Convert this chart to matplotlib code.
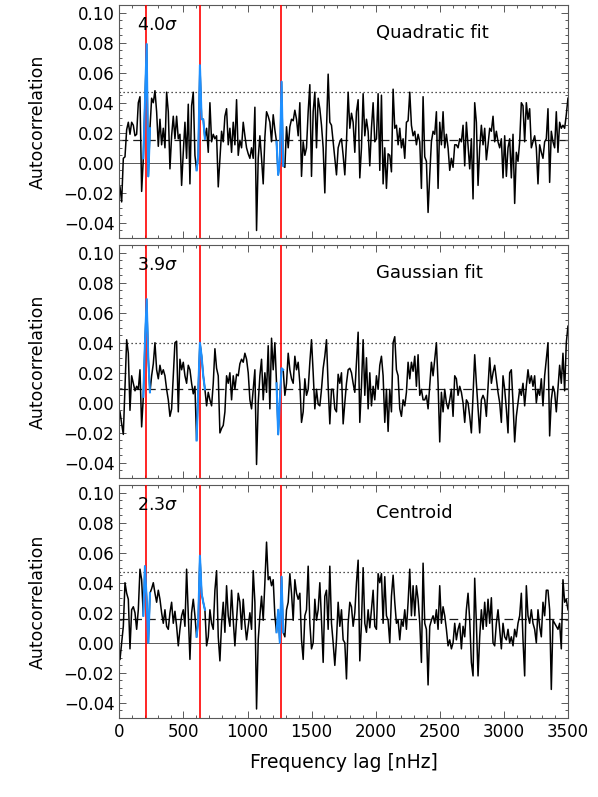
import numpy as np
import matplotlib
matplotlib.use("Agg")
import matplotlib.pyplot as plt
from matplotlib.ticker import MultipleLocator

# ---------------- data ----------------
quad_left = [-0.016, -0.026, 0.003, 0.004, 0.022, 0.027, 0.019, 0.027, 0.025, 0.018, 0.019,
             0.040, 0.044, -0.019, 0.003, 0.040, 0.079, -0.009, 0.023, 0.043, 0.040, 0.048,
             0.034, 0.011, 0.029, 0.012, 0.023, 0.010, 0.047, 0.034, -0.004, 0.018, 0.031,
             0.016, 0.031, 0.016, 0.019, -0.015, 0.007, 0.027, 0.003, 0.039, -0.014, 0.038,
             0.047, 0.005, -0.005, 0.005, 0.065, 0.029, 0.029, 0.016, 0.023, 0.007, 0.040,
             0.014, 0.019, 0.016, 0.018, -0.016, 0.003, 0.021, 0.014, 0.031, 0.036, 0.012,
             0.023, 0.007, 0.027, 0.012, 0.042, 0.005, 0.015, 0.010, 0.027, 0.018, 0.010,
             0.006, 0.003, 0.010, 0.003, 0.037, -0.045, 0.003, 0.018, 0.003, -0.014, 0.017,
             0.034, 0.031, 0.027, 0.014, 0.032, 0.022, 0.014, -0.008, 0.001, 0.054, -0.002,
             -0.003, 0.024, 0.010, 0.024, 0.029, 0.028, 0.035, 0.029, 0.018, 0.040, -0.009,
             0.014, 0.005, 0.010, 0.034, 0.052, -0.009, 0.034, 0.047, 0.010, 0.043, 0.036,
             0.025, 0.010, -0.020, 0.022, 0.059, 0.027, 0.025, 0.014, 0.003, -0.008, 0.010,
             0.014, 0.016, 0.005, -0.008, 0.014, 0.047, 0.023, 0.033, 0.027, 0.007, 0.034,
             0.042]
quad_right = [-0.010, 0.010, 0.046, 0.018, 0.029, 0.021, -0.002, 0.023, 0.040, 0.014, 0.016,
              0.046, -0.005, 0.045, -0.014, 0.010, -0.017, 0.006, 0.005, -0.006, 0.049, 0.023,
              0.025, 0.012, 0.023, 0.010, 0.016, 0.003, 0.027, 0.028, 0.047, 0.025, 0.018,
              0.021, 0.012, 0.019, 0.014, -0.017, 0.044, 0.004, 0.001, -0.033, -0.008, 0.014,
              0.021, 0.019, 0.034, -0.017, 0.027, 0.012, 0.034, 0.010, 0.019, 0.010, -0.005,
              0.003, -0.003, 0.012, 0.012, 0.010, 0.016, 0.014, 0.025, -0.002, 0.027, 0.012,
              -0.004, 0.016, -0.024, 0.040, 0.027, -0.015, 0.010, 0.025, 0.012, 0.023, 0.002,
              0.012, 0.023, 0.021, 0.031, 0.014, 0.021, 0.014, 0.010, 0.016, -0.010, 0.018,
              -0.009, 0.010, 0.016, -0.010, 0.019, -0.027, 0.007, 0.001, 0.014, 0.040, 0.038,
              0.014, 0.040, 0.029, 0.036, 0.010, 0.014, 0.018, 0.010, -0.014, 0.012, 0.007,
              0.003, 0.014, 0.016, 0.036, -0.013, 0.021, 0.014, 0.010, 0.034, 0.007, 0.027,
              0.023, 0.025, 0.023, 0.032, 0.043]

gauss_left = [-0.006, -0.014, -0.021, 0.011, 0.042, 0.033, -0.005, 0.018, 0.013, 0.008, 0.011,
              0.009, 0.022, -0.016, 0.004, 0.040, 0.069, 0.029, 0.007, 0.018, 0.026, 0.040,
              0.022, 0.016, 0.025, 0.019, 0.022, 0.018, 0.009, 0.002, -0.009, -0.004, 0.018,
              0.040, 0.041, -0.006, 0.029, 0.022, 0.027, 0.018, 0.013, 0.025, 0.022, 0.013,
              0.006, 0.011, -0.025, 0.009, 0.040, 0.031, 0.018, 0.009, -0.002, 0.007, 0.002,
              -0.002, 0.013, 0.036, 0.023, 0.018, -0.020, -0.017, -0.015, -0.006, 0.018, 0.013,
              0.020, 0.002, 0.018, 0.009, 0.019, 0.018, 0.026, 0.029, 0.027, 0.033, 0.029,
              0.020, 0.002, -0.004, 0.009, 0.022, -0.041, 0.000, 0.018, 0.029, 0.002, 0.020,
              0.007, 0.038, -0.004, 0.043, 0.022, 0.040, 0.013, -0.021, 0.002, 0.023, 0.022,
              0.005, 0.013, 0.033, 0.022, 0.016, 0.013, 0.031, 0.022, 0.027, 0.013, -0.013,
              -0.006, 0.016, 0.005, 0.009, 0.027, 0.042, 0.020, -0.004, 0.009, -0.001, -0.002,
              0.009, 0.023, 0.031, 0.042, 0.011, -0.014, 0.009, 0.009, -0.004, -0.006, 0.019,
              0.013, 0.020, -0.014, 0.000, 0.013, 0.022, 0.023, 0.020, 0.013, 0.007, 0.027,
              0.047]
gauss_right = [-0.013, 0.011, 0.042, 0.005, 0.030, -0.004, 0.020, -0.002, 0.011, 0.002, 0.018,
               0.009, 0.025, 0.031, 0.018, -0.013, 0.009, -0.019, 0.009, -0.006, 0.040, 0.044,
               0.022, 0.018, -0.004, -0.009, 0.002, -0.002, 0.007, 0.027, 0.016, 0.027, 0.021,
               0.031, 0.011, 0.032, 0.005, 0.009, 0.002, 0.002, 0.005, -0.004, 0.011, 0.027,
               0.018, 0.029, 0.040, 0.013, -0.026, 0.007, -0.006, 0.009, 0.000, -0.004, 0.002,
               0.009, -0.009, 0.018, 0.016, 0.005, 0.011, 0.007, 0.000, -0.013, 0.002, 0.000,
               -0.009, -0.020, 0.005, 0.032, 0.013, -0.004, -0.020, 0.002, 0.005, 0.002, -0.009,
               0.011, 0.030, 0.013, 0.020, 0.025, 0.016, 0.007, 0.000, -0.013, 0.018, 0.009,
               -0.004, -0.020, 0.020, 0.022, 0.000, -0.026, -0.009, 0.000, 0.009, 0.005, 0.013,
               -0.002, 0.011, 0.022, 0.013, 0.018, 0.011, 0.018, 0.000, 0.009, 0.005, 0.016,
               -0.002, 0.018, 0.029, 0.040, -0.022, 0.002, 0.011, 0.007, -0.006, 0.009, 0.025,
               0.013, 0.033, 0.008, 0.040, 0.051]

cent_left = [-0.011, 0.000, 0.011, 0.040, 0.033, 0.029, -0.004, 0.022, 0.024, 0.020, 0.009,
             0.022, 0.049, 0.042, 0.018, 0.051, 0.029, 0.000, 0.033, 0.036, 0.040, 0.033,
             0.027, 0.035, 0.029, 0.020, 0.013, 0.022, 0.011, 0.009, 0.020, 0.027, 0.013,
             0.021, 0.011, -0.002, 0.009, 0.018, 0.022, 0.011, 0.049, 0.018, -0.011, 0.020,
             0.029, 0.018, 0.004, 0.015, 0.058, 0.033, 0.027, 0.022, -0.002, 0.004, 0.022,
             0.013, 0.009, 0.035, 0.048, 0.004, -0.012, 0.013, 0.027, 0.007, 0.038, 0.018,
             0.011, 0.035, 0.015, -0.002, 0.015, 0.033, 0.027, 0.009, 0.029, 0.013, 0.002,
             0.011, 0.020, 0.009, 0.048, 0.027, -0.044, 0.002, 0.018, 0.031, 0.015, 0.040,
             0.067, 0.042, 0.044, 0.038, 0.042, 0.018, 0.007, 0.022, 0.000, 0.044, 0.007,
             0.004, 0.022, 0.027, 0.046, 0.033, 0.015, 0.042, 0.033, 0.029, 0.033, 0.002,
             -0.011, 0.018, 0.022, 0.051, 0.013, -0.004, 0.000, 0.029, 0.015, 0.022, 0.040,
             0.015, -0.013, 0.031, 0.035, 0.009, 0.051, 0.013, 0.000, -0.015, 0.002, 0.027,
             0.011, 0.022, 0.002, 0.000, -0.024, 0.013, 0.027, 0.024, 0.011, 0.020, 0.040,
             0.055]
cent_right = [-0.012, 0.013, 0.050, 0.013, 0.007, 0.022, 0.010, 0.022, 0.035, 0.011, 0.009,
              0.046, 0.040, 0.046, 0.013, 0.044, 0.018, 0.015, 0.000, 0.031, 0.045, 0.027,
              0.013, 0.015, 0.002, 0.015, 0.011, 0.022, 0.009, 0.027, 0.049, 0.018, 0.038,
              0.018, 0.038, 0.029, 0.013, -0.013, 0.053, 0.013, 0.009, -0.028, 0.011, 0.015,
              0.018, 0.013, 0.022, 0.009, 0.038, 0.013, 0.024, 0.018, 0.009, -0.002, 0.002,
              -0.004, 0.000, 0.013, 0.002, 0.009, 0.013, -0.004, 0.011, 0.004, 0.022, 0.033,
              0.015, -0.013, -0.022, 0.043, 0.013, -0.022, 0.004, 0.022, 0.009, 0.027, 0.011,
              0.029, 0.013, 0.030, 0.000, -0.002, 0.013, 0.022, 0.009, -0.004, 0.013, 0.004,
              0.002, 0.009, 0.000, 0.004, -0.002, 0.009, 0.004, 0.013, 0.018, 0.033, 0.002,
              -0.022, 0.038, 0.018, 0.013, 0.022, 0.013, 0.009, 0.000, 0.022, 0.011, 0.004,
              0.027, 0.018, 0.035, 0.035, 0.022, -0.031, 0.015, 0.013, 0.011, 0.009, 0.013,
              -0.004, 0.042, 0.027, 0.029, 0.022]

panel_labels = ["Quadratic fit", "Gaussian fit", "Centroid"]
sigma_labels = ["4.0", "3.9", "2.3"]
mean_levels = [0.015, 0.009, 0.016]       # dashed lines
thresh_levels = [0.047, 0.040, 0.047]     # dotted lines
red_lags = [210, 630, 1260]
blue_ranges = [(185, 235), (598, 662), (1225, 1275)]
lag_start, lag_step = 5.4, 12.99

series = [quad_left + quad_right, gauss_left + gauss_right, cent_left + cent_right]

# ---------------- figure ----------------
W, H = 598, 797
fig = plt.figure(figsize=(W / 100, H / 100), dpi=100)
left = 119.3 / W
width = (568 - 119.3) / W
tops = [5, 245, 485]
ph = 233

for k, vals in enumerate(series):
    vals = np.array(vals)
    lag = lag_start + lag_step * np.arange(len(vals))
    ax = fig.add_axes([left, 1 - (tops[k] + ph) / H, width, ph / H])
    ax.set_xlim(0, 3500)
    ax.set_ylim(-0.05, 0.105)

    ax.axhline(0, color='0.35', lw=0.7, zorder=1)
    ax.axhline(mean_levels[k], color='0.1', lw=0.9, ls=(0, (7, 4)), zorder=1)
    ax.axhline(thresh_levels[k], color='0.1', lw=0.9, ls=(0, (1, 2.2)), zorder=1)

    ax.plot(lag, vals, color='black', lw=1.1, zorder=2)
    for r in red_lags:
        ax.axvline(r, color='red', lw=1.2, zorder=3)
    for lo, hi in blue_ranges:
        m = (lag >= lo - 7) & (lag <= hi + 7)
        ax.plot(lag[m], vals[m], color='#1e90ff', lw=1.5, zorder=4)

    ax.text(0.04, 0.915, sigma_labels[k] + r"$\sigma$", transform=ax.transAxes,
            fontsize=12.5, ha='left', va='center')
    ax.text(0.572, 0.88, panel_labels[k], transform=ax.transAxes,
            fontsize=13, ha='left', va='center')

    ax.xaxis.set_major_locator(MultipleLocator(500))
    ax.xaxis.set_minor_locator(MultipleLocator(100))
    ax.yaxis.set_major_locator(MultipleLocator(0.02))
    ax.yaxis.set_minor_locator(MultipleLocator(0.005))
    ax.tick_params(which='both', direction='in', top=True, right=True,
                   color='0.35', width=0.7, labelsize=12)
    ax.tick_params(which='major', length=5)
    ax.tick_params(which='minor', length=2.5)
    ax.yaxis.set_major_formatter(matplotlib.ticker.FuncFormatter(
        lambda v, p: ("%.2f" % v).replace("-", "\u2212")))
    for s in ax.spines.values():
        s.set_color('0.35')
        s.set_linewidth(0.8)
    ax.set_ylabel("Autocorrelation", fontsize=12.5, labelpad=12)
    if k < 2:
        ax.tick_params(labelbottom=False)
    else:
        ax.set_xlabel("Frequency lag [nHz]", fontsize=13.5, labelpad=9)

fig.savefig("out.png", dpi=100)
